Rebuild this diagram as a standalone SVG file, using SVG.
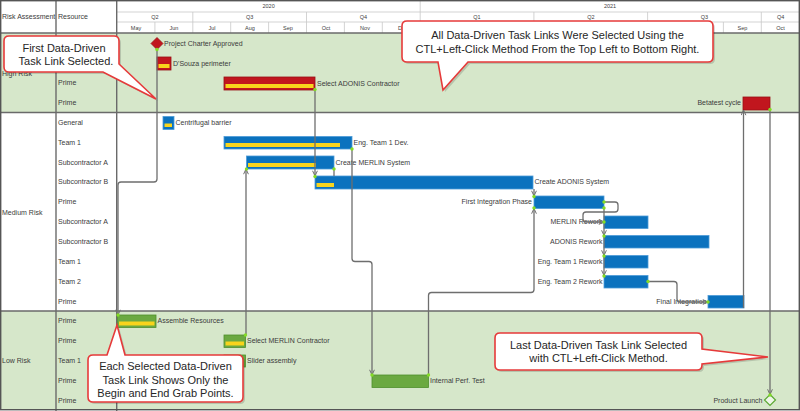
<svg xmlns="http://www.w3.org/2000/svg" width="800" height="411" viewBox="0 0 800 411">
<style>
.lbl{font-family:"Liberation Sans",Arial,sans-serif;font-size:7px;fill:#3b3b3b}
.end{text-anchor:end}
.hd{font-family:"Liberation Sans",Arial,sans-serif;font-size:5.5px;fill:#404040;text-anchor:middle}
.co{font-family:"Liberation Sans",Arial,sans-serif;font-size:11px;fill:#262626;text-anchor:middle}
.red{fill:#c1161e;stroke:#9a0f14;stroke-width:.8}
.blue{fill:#0b72be;stroke:#4d9bd8;stroke-width:.8}
.green{fill:#6ba941;stroke:#4f8f2c;stroke-width:.8}
.prog{fill:#f8d41c}
.dot{fill:#84dc26}
.link{fill:none;stroke:#6e6e6e;stroke-width:1.3;marker-end:url(#arr)}
.plain{fill:none;stroke:#6e6e6e;stroke-width:1.3}
.grid{stroke:#c8c8c8;stroke-width:.8}
.dark{stroke:#6a6a6a;stroke-width:1.4}
.callout{fill:#fff;stroke:#e63a3a;stroke-width:1.6}
.shadow{fill:#000;opacity:.15}
</style>
<defs>
<marker id="arr" viewBox="0 0 6 6" refX="5.6" refY="3" markerWidth="6" markerHeight="6" markerUnits="userSpaceOnUse" orient="auto">
<path d="M0.4,0.6 L5.6,3 L0.4,5.4" fill="none" stroke="#6e6e6e" stroke-width="1"/>
</marker>
</defs>
<rect x="0" y="0" width="800" height="411" fill="#fff"/>
<!-- bands -->
<g id="bands">
<rect x="0" y="33" width="800" height="79.5" fill="#d6e7ca"/>
<rect x="0" y="311" width="800" height="99" fill="#d6e7ca"/>
</g>
<!-- header -->
<g id="header">
<line class="grid" x1="117" y1="12" x2="800" y2="12"/>
<line class="grid" x1="117" y1="22" x2="800" y2="22"/>
<line class="grid" x1="420.2" y1="1" x2="420.2" y2="12"/>
<g class="grid">
<line x1="192.8" y1="12" x2="192.8" y2="33"/><line x1="306.5" y1="12" x2="306.5" y2="33"/><line x1="420.2" y1="12" x2="420.2" y2="33"/><line x1="533.9" y1="12" x2="533.9" y2="33"/><line x1="647.6" y1="12" x2="647.6" y2="33"/><line x1="761.3" y1="12" x2="761.3" y2="33"/>
<line x1="154.9" y1="22" x2="154.9" y2="33"/><line x1="230.7" y1="22" x2="230.7" y2="33"/><line x1="268.6" y1="22" x2="268.6" y2="33"/><line x1="344.4" y1="22" x2="344.4" y2="33"/><line x1="382.3" y1="22" x2="382.3" y2="33"/><line x1="458.1" y1="22" x2="458.1" y2="33"/><line x1="496" y1="22" x2="496" y2="33"/><line x1="571.8" y1="22" x2="571.8" y2="33"/><line x1="609.7" y1="22" x2="609.7" y2="33"/><line x1="685.5" y1="22" x2="685.5" y2="33"/><line x1="723.4" y1="22" x2="723.4" y2="33"/>
</g>
<text class="hd" x="268.6" y="8">2020</text>
<text class="hd" x="610" y="8">2021</text>
<text class="hd" x="154.9" y="18.8">Q2</text>
<text class="hd" x="249.6" y="18.8">Q3</text>
<text class="hd" x="363.3" y="18.8">Q4</text>
<text class="hd" x="477" y="18.8">Q1</text>
<text class="hd" x="590.8" y="18.8">Q2</text>
<text class="hd" x="704.5" y="18.8">Q3</text>
<text class="hd" x="780.6" y="18.8">Q4</text>
<text class="hd" x="136" y="30">May</text>
<text class="hd" x="174" y="30">Jun</text>
<text class="hd" x="212" y="30">Jul</text>
<text class="hd" x="250" y="30">Aug</text>
<text class="hd" x="288" y="30">Sep</text>
<text class="hd" x="326" y="30">Oct</text>
<text class="hd" x="365" y="30">Nov</text>
<text class="hd" x="403" y="30">Dec</text>
<text class="hd" x="742.4" y="30">Sep</text>
<text class="hd" x="780.6" y="30">Oct</text>
<text class="lbl" x="2" y="19">Risk Assessment</text>
<text class="lbl" x="58" y="19">Resource</text>
</g>
<!-- structure lines -->
<g id="frame">
<line class="dark" x1="0" y1="33" x2="800" y2="33"/>
<line class="dark" x1="0" y1="112.5" x2="800" y2="112.5"/>
<line class="dark" x1="0" y1="311" x2="800" y2="311"/>
<line class="dark" x1="56" y1="0" x2="56" y2="411"/>
<line class="dark" x1="116.7" y1="0" x2="116.7" y2="411"/>
<rect x="0.7" y="0.7" width="798.6" height="409" fill="none" stroke="#555" stroke-width="1.4"/>
</g>
<!-- row labels -->
<g id="rows">
<text class="lbl" x="2" y="75.5">High Risk</text>
<text class="lbl" x="2" y="215">Medium Risk</text>
<text class="lbl" x="2" y="363">Low Risk</text>
<text class="lbl" x="58" y="85.2">Prime</text>
<text class="lbl" x="58" y="105">Prime</text>
<text class="lbl" x="58" y="124.9">General</text>
<text class="lbl" x="58" y="144.7">Team 1</text>
<text class="lbl" x="58" y="164.6">Subcontractor A</text>
<text class="lbl" x="58" y="184.4">Subcontractor B</text>
<text class="lbl" x="58" y="204.3">Prime</text>
<text class="lbl" x="58" y="224.1">Subcontractor A</text>
<text class="lbl" x="58" y="244">Subcontractor B</text>
<text class="lbl" x="58" y="263.8">Team 1</text>
<text class="lbl" x="58" y="283.7">Team 2</text>
<text class="lbl" x="58" y="303.5">Prime</text>
<text class="lbl" x="58" y="323.4">Prime</text>
<text class="lbl" x="58" y="343.2">Prime</text>
<text class="lbl" x="58" y="363.1">Team 1</text>
<text class="lbl" x="58" y="382.9">Prime</text>
<text class="lbl" x="58" y="402.8">Prime</text>
</g>
<!-- tasks -->
<g id="task-project-charter">
<polygon class="red" points="157,37.5 163,43.5 157,49.5 151,43.5"/>
<text class="lbl" x="164" y="46">Project Charter Approved</text>
</g>
<g id="task-dsouza">
<rect class="red" x="157" y="57" width="14" height="13"/>
<rect class="prog" x="158.5" y="64" width="11" height="4"/>
<text class="lbl" x="173" y="65.5">D'Souza perimeter</text>
</g>
<g id="task-select-adonis">
<rect class="red" x="224" y="77" width="91" height="13"/>
<rect class="prog" x="225.5" y="84" width="88" height="4"/>
<text class="lbl" x="317" y="85.5">Select ADONIS Contractor</text>
</g>
<g id="task-betatest">
<rect class="red" x="743" y="97" width="27" height="13"/>
<text class="lbl end" x="741" y="105">Betatest cycle</text>
</g>
<g id="task-centrifugal">
<rect class="blue" x="163" y="116.5" width="11" height="13"/>
<rect class="prog" x="164.5" y="123.5" width="7.5" height="3.5"/>
<text class="lbl" x="175.5" y="125">Centrifugal barrier</text>
</g>
<g id="task-eng-team1-dev">
<rect class="blue" x="224" y="136.5" width="128" height="12.5"/>
<rect class="prog" x="225.5" y="143" width="114.5" height="4"/>
<text class="lbl" x="353.5" y="144.8">Eng. Team 1 Dev.</text>
</g>
<g id="task-create-merlin">
<rect class="blue" x="246.5" y="156" width="87.5" height="13"/>
<rect class="prog" x="248" y="163" width="68" height="4"/>
<text class="lbl" x="335.5" y="164.6">Create MERLIN System</text>
</g>
<g id="task-create-adonis">
<rect class="blue" x="315" y="176" width="218" height="13"/>
<rect class="prog" x="316.5" y="183" width="17.5" height="4"/>
<text class="lbl" x="534.5" y="184.4">Create ADONIS System</text>
</g>
<g id="task-first-integration">
<rect class="blue" x="534" y="196" width="70" height="12.5"/>
<text class="lbl end" x="532" y="204.3">First Integration Phase</text>
</g>
<g id="task-merlin-rework">
<rect class="blue" x="604" y="216" width="44" height="12.5"/>
<text class="lbl end" x="602.5" y="224.1">MERLIN Rework</text>
</g>
<g id="task-adonis-rework">
<rect class="blue" x="604" y="235.5" width="105" height="12.5"/>
<text class="lbl end" x="602.5" y="244">ADONIS Rework</text>
</g>
<g id="task-eng-team1-rework">
<rect class="blue" x="604" y="255.5" width="44" height="12.5"/>
<text class="lbl end" x="602.5" y="263.8">Eng. Team 1 Rework</text>
</g>
<g id="task-eng-team2-rework">
<rect class="blue" x="604" y="275.5" width="44" height="12.5"/>
<text class="lbl end" x="602.5" y="283.7">Eng. Team 2 Rework</text>
</g>
<g id="task-final-integration">
<rect class="blue" x="708" y="295.5" width="36" height="12.5"/>
<text class="lbl end" x="706.5" y="303.5">Final Integration</text>
</g>
<g id="task-assemble">
<rect class="green" x="117.5" y="315" width="38.5" height="12.5"/>
<rect class="prog" x="119" y="321.5" width="35.5" height="4"/>
<text class="lbl" x="157.5" y="323.4">Assemble Resources</text>
</g>
<g id="task-select-merlin">
<rect class="green" x="224" y="335" width="21.5" height="12.5"/>
<rect class="prog" x="225.5" y="341.5" width="18.5" height="4"/>
<text class="lbl" x="247" y="343.2">Select MERLIN Contractor</text>
</g>
<g id="task-slider">
<rect class="green" x="224" y="355" width="21.5" height="12"/>
<text class="lbl" x="247" y="363.1">Slider assembly</text>
</g>
<g id="task-internal-perf">
<rect class="green" x="372" y="375" width="56.5" height="12.5"/>
<text class="lbl" x="430" y="382.9">Internal Perf. Test</text>
</g>
<g id="task-product-launch">
<polygon points="770,394.5 775.5,400 770,405.5 764.5,400" fill="#eef5e8" stroke="#5aa832" stroke-width="1.2"/>
<text class="lbl end" x="762.5" y="402.8">Product Launch</text>
</g>
<!-- connectors -->
<g id="connectors">
<path class="link" d="M157,49.5 V179 Q157,182 154,182 H121 Q118,182 118,185 V315"/>
<path class="link" d="M315,90 V176"/>
<path class="plain" d="M334,169 V176"/>
<path class="link" d="M352,149 V258.5 Q352,261.5 355,261.5 H369 Q372,261.5 372,264.5 V375"/>
<path class="link" d="M246,335 V169"/>
<path class="link" d="M428.5,375 V295.5 Q428.5,292.5 431.5,292.5 H531 Q534,292.5 534,289.5 V208.5"/>
<path class="link" d="M534,189 V196"/>
<path class="link" d="M604,202 H615 Q618,202 618,205 V209 Q618,212 615,212 H586 Q583,212 583,215 V219 Q583,222 586,222 H604"/>
<path class="link" d="M604,208.5 V235.5"/>
<path class="link" d="M604,236 V255.5"/>
<path class="link" d="M604,256 V275.5"/>
<path class="link" d="M648,281.5 H674 Q677,281.5 677,284.5 V299 Q677,302 680,302 H708"/>
<path class="link" d="M743.5,308 V110"/>
<path class="link" d="M770,110 V394.5"/>
</g>
<g id="grab-points" class="dot">
<circle cx="157" cy="49.5" r="1.7"/><circle cx="315" cy="89.5" r="1.7"/><circle cx="770" cy="109.5" r="1.7"/>
<circle cx="352" cy="149" r="1.7"/><circle cx="246.5" cy="169" r="1.7"/><circle cx="334" cy="169" r="1.7"/>
<circle cx="315" cy="176.5" r="1.7"/><circle cx="534" cy="196.5" r="1.7"/><circle cx="534" cy="208" r="1.7"/>
<circle cx="604" cy="202" r="1.7"/><circle cx="604" cy="208" r="1.7"/><circle cx="604" cy="222" r="1.7"/>
<circle cx="604" cy="236" r="1.7"/><circle cx="604" cy="256" r="1.7"/><circle cx="604" cy="276" r="1.7"/>
<circle cx="648" cy="281.5" r="1.7"/><circle cx="708" cy="302" r="1.7"/><circle cx="118" cy="315" r="1.7"/>
<circle cx="245.5" cy="335" r="1.7"/><circle cx="372" cy="375" r="1.7"/><circle cx="428.5" cy="375" r="1.7"/>
<circle cx="770" cy="395" r="1.7"/>
</g>
<!-- callouts -->
<g id="callout-first">
<path class="shadow" d="M11,38 H116 Q121,38 121,43 V66 L158,101 L105,74 H11 Q6,74 6,69 V43 Q6,38 11,38 Z"/>
<path class="callout" d="M9,36 H114 Q119,36 119,41 V64 L156,99 L103,72 H9 Q4,72 4,67 V41 Q4,36 9,36 Z"/>
<text class="co" x="64" y="52">First Data-Driven</text>
<text class="co" x="66" y="65">Task Link Selected.</text>
</g>
<g id="callout-all">
<path class="shadow" d="M409,23 H710 Q715,23 715,28 V59 Q715,64 710,64 H470 L445,92 L440,64 H409 Q404,64 404,59 V28 Q404,23 409,23 Z"/>
<path class="callout" d="M407,21 H708 Q713,21 713,26 V57 Q713,62 708,62 H468 L443,90 L438,62 H407 Q402,62 402,57 V26 Q402,21 407,21 Z"/>
<text class="co" x="557.5" y="39">All Data-Driven Task Links Were Selected Using the</text>
<text class="co" x="557.5" y="53">CTL+Left-Click Method From the Top Left to Bottom Right.</text>
</g>
<g id="callout-each">
<path class="shadow" d="M95,357 H109 L119,327 L127,357 H240 Q245,357 245,362 V399 Q245,404 240,404 H95 Q90,404 90,399 V362 Q90,357 95,357 Z"/>
<path class="callout" d="M93,355 H107 L117,325 L125,355 H238 Q243,355 243,360 V397 Q243,402 238,402 H93 Q88,402 88,397 V360 Q88,355 93,355 Z"/>
<text class="co" x="165.5" y="370">Each Selected Data-Driven</text>
<text class="co" x="165.5" y="383.5">Task Link Shows Only the</text>
<text class="co" x="165.5" y="397">Begin and End Grab Points.</text>
</g>
<g id="callout-last">
<path class="shadow" d="M502,335 H699 Q704,335 704,340 V351 L770,359 L704,366 V367 Q704,372 699,372 H502 Q497,372 497,367 V340 Q497,335 502,335 Z"/>
<path class="callout" d="M500,333 H697 Q702,333 702,338 V349 L768,357 L702,364 V365 Q702,370 697,370 H500 Q495,370 495,365 V338 Q495,333 500,333 Z"/>
<text class="co" x="598.5" y="349">Last Data-Driven Task Link Selected</text>
<text class="co" x="598.5" y="362">with CTL+Left-Click Method.</text>
</g>
</svg>
